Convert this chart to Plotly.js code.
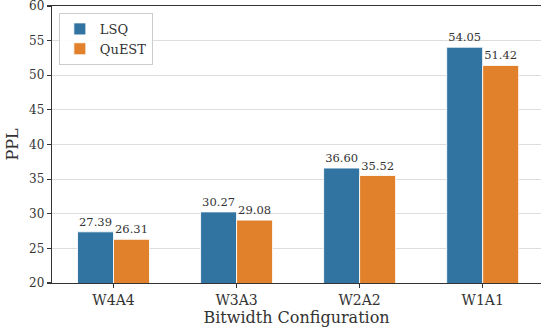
<!DOCTYPE html>
<html>
<head>
<meta charset="utf-8">
<script src="https://cdn.plot.ly/plotly-3.0.1.min.js"></script>
<style>html,body{margin:0;padding:0;background:#fff;}#chart{width:541px;height:336px;}</style>
</head>
<body>
<div id="chart"></div>
<script>
const categories = ["W4A4", "W3A3", "W2A2", "W1A1"];
const lsqValues = [27.39, 30.27, 36.60, 54.05];
const questValues = [26.31, 29.08, 35.52, 51.42];
const seriesNames = ["LSQ", "QuEST"];
const yTicks = [20, 25, 30, 35, 40, 45, 50, 55, 60];

const FONT = "'DejaVu Serif', 'Liberation Serif', serif";
const TXT = "#333333";

function barTrace(name, vals, color) {
  return {
    type: "bar",
    name: name,
    x: categories,
    y: vals,
    text: vals.map(v => v.toFixed(2)),
    textposition: "outside",
    textfont: {family: FONT, size: 11.5, color: TXT},
    cliponaxis: false,
    marker: {color: color, line: {color: "rgba(255,255,255,0.85)", width: 1}}
  };
}

const data = [
  barTrace(seriesNames[0], lsqValues, "#3274a1"),
  barTrace(seriesNames[1], questValues, "#e1812c")
];

const layout = {
  width: 541, height: 336,
  margin: {l: 52, r: 0, t: 6, b: 53, pad: 0},
  paper_bgcolor: "#fff", plot_bgcolor: "#fff",
  font: {family: FONT, color: TXT},
  barmode: "group",
  bargap: 0.415,
  bargroupgap: 0,
  showlegend: true,
  legend: {
    x: 0.014, y: 0.975, xanchor: "left", yanchor: "top",
    bgcolor: "rgba(255,255,255,0.9)", bordercolor: "#cccccc", borderwidth: 1,
    font: {family: FONT, size: 13, color: TXT},
    itemwidth: 30, tracegroupgap: 0
  },
  xaxis: {
    type: "category",
    range: [-0.5, 3.474],
    showline: true, linecolor: "#333", linewidth: 1.2, mirror: true,
    ticks: "outside", ticklen: 4, tickcolor: "#333", tickwidth: 1.2,
    tickfont: {family: FONT, size: 14, color: TXT},
    showgrid: false, zeroline: false,
    title: {text: "Bitwidth Configuration", font: {family: FONT, size: 16, color: TXT}, standoff: 4}
  },
  yaxis: {
    range: [20, 60],
    tickvals: yTicks,
    ticklabeloverflow: "allow",
    showline: true, linecolor: "#333", linewidth: 1.2,
    ticks: "outside", ticklen: 4, tickcolor: "#333", tickwidth: 1.2,
    tickfont: {family: FONT, size: 12, color: TXT},
    showgrid: true, gridcolor: "#dddddd", gridwidth: 1,
    zeroline: false,
    title: {text: "PPL", font: {family: FONT, size: 16, color: TXT}, standoff: 6}
  }
};

Plotly.newPlot("chart", data, layout, {displayModeBar: false, staticPlot: true});
</script>
</body>
</html>
